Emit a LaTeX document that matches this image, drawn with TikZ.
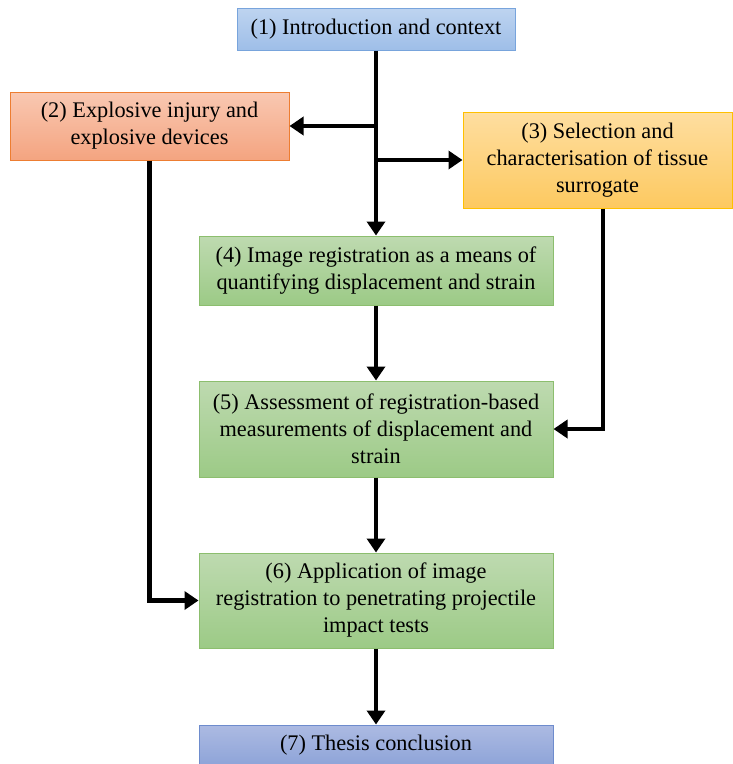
\documentclass[tikz,border=0pt]{standalone}
\usepackage{fontspec}
\setmainfont{Liberation Serif}
\usetikzlibrary{arrows.meta}

\definecolor{introtop}{RGB}{190,212,240}
\definecolor{introbot}{RGB}{158,190,232}
\definecolor{introline}{RGB}{120,164,220}
\definecolor{expltop}{RGB}{249,200,178}
\definecolor{explbot}{RGB}{244,164,128}
\definecolor{explline}{RGB}{237,125,49}
\definecolor{surrtop}{RGB}{254,222,160}
\definecolor{surrbot}{RGB}{253,201,96}
\definecolor{surrline}{RGB}{255,192,0}
\definecolor{regtop}{RGB}{190,218,176}
\definecolor{regbot}{RGB}{156,202,134}
\definecolor{regline}{RGB}{140,190,110}
\definecolor{conctop}{RGB}{172,186,226}
\definecolor{concbot}{RGB}{142,164,216}
\definecolor{concline}{RGB}{110,140,205}

\tikzset{
  chapbox/.style={draw, line width=1pt, align=center, inner sep=0pt,
    font=\fontsize{22.3}{27}\selectfont},
  flowarrow/.style={line width=4.2pt, -{Triangle[length=14pt,width=18pt]}}
}

\begin{document}
\begin{tikzpicture}[x=1pt, y=-1pt]
    \useasboundingbox (0,0) rectangle (732,764);
    \node[chapbox, top color=introtop, bottom color=introbot, draw=introline,
      minimum width=278, minimum height=42] (intro) at (376,29)
      {(1) Introduction and context};
    \node[chapbox, top color=expltop, bottom color=explbot, draw=explline,
      minimum width=279, minimum height=68] (expl) at (149.5,126)
      {(2) Explosive injury and\\explosive devices};
    \node[chapbox, top color=surrtop, bottom color=surrbot, draw=surrline,
      minimum width=269, minimum height=96] (surr) at (597.5,160)
      {(3) Selection and\\characterisation of tissue\\surrogate};
    \node[chapbox, top color=regtop, bottom color=regbot, draw=regline,
      minimum width=354, minimum height=69] (reg) at (376,270.5)
      {(4) Image registration as a means of\\quantifying displacement and strain};
    \node[chapbox, top color=regtop, bottom color=regbot, draw=regline,
      minimum width=354, minimum height=96] (assess) at (376,429)
      {(5) Assessment of registration-based\\measurements of displacement and\\strain};
    \node[chapbox, top color=regtop, bottom color=regbot, draw=regline,
      minimum width=354, minimum height=95] (apply) at (376,600.5)
      {(6) Application of image\\registration to penetrating projectile\\impact tests};
    \node[chapbox, top color=conctop, bottom color=concbot, draw=concline,
      minimum width=354, minimum height=40] (conc) at (376,745)
      {(7) Thesis conclusion};

    \coordinate (split2) at (intro.south |- expl.east);
    \coordinate (split3) at (intro.south |- surr.west);
    \draw[flowarrow] (intro.south) -- (reg.north);
    \draw[flowarrow] (split2) -- (expl.east);
    \draw[flowarrow] (split3) -- (surr.west);
    \draw[flowarrow] (reg.south) -- (assess.north);
    \draw[flowarrow] (assess.south) -- (apply.north);
    \draw[flowarrow] (apply.south) -- (conc.north);
    \draw[flowarrow] (expl.south) |- (apply.west);
    \draw[flowarrow] ([xshift=5.5pt]surr.south) |- (assess.east);
  \end{tikzpicture}
\end{document}
